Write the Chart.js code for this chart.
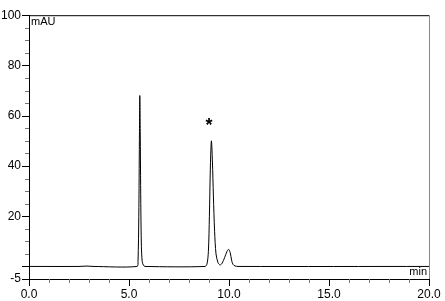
<!DOCTYPE html>
<html>
<head>
  <meta charset="UTF-8" />
  <title>Chromatogram</title>
  <script src="https://cdn.jsdelivr.net/npm/chart.js"></script>
  <style>
    body { margin: 0; background: #fff; overflow: hidden; }
    canvas { display: block; }
  </style>
</head>
<body>
  <canvas id="chrom" width="445" height="301"></canvas>

  <script>
    // retention time (min) and signal (mAU)
    const times = [0, 2.5, 2.9, 3.2, 5.40, 5.45, 5.49, 5.52, 5.54, 5.56, 5.59, 5.62, 5.66, 5.72, 5.80,
                   8.80, 8.90, 8.97, 9.02, 9.07, 9.12, 9.17, 9.22, 9.28, 9.35, 9.45, 9.55, 9.65,
                   9.78, 9.90, 9.98, 10.06, 10.13, 10.20, 10.30, 10.45, 20];
    const signal = [0, 0, 0.15, 0, 0, 2, 20, 50, 68, 55, 25, 8, 2, 0.5, 0,
                    0, 1, 6, 20, 40, 50, 42, 28, 14, 5, 1.5, 0.6, 1.2,
                    3.5, 6, 6.8, 5.5, 2.5, 0.8, 0.2, 0, 0];
    const yLabels = [100, 80, 60, 40, 20, -5];
    const yMajor = [100, 80, 60, 40, 20, 0, -5];
    const xLabels = [0, 5, 10, 15, 20];
    const marks = [{ x: 9.0, y: 56, text: '*' }];

    const font = { family: 'Liberation Sans, Arial, sans-serif', size: 12 };

    const decor = {
      id: 'decor',
      afterDraw(chart) {
        const ctx = chart.ctx;
        const a = chart.chartArea;
        const xs = chart.scales.x, ys = chart.scales.y;
        ctx.save();
        // frame top and right
        ctx.strokeStyle = '#000';
        ctx.lineWidth = 1;
        ctx.beginPath();
        ctx.moveTo(a.left, a.top + 0.5);
        ctx.lineTo(a.right, a.top + 0.5);
        ctx.stroke();
        ctx.strokeStyle = '#888';
        ctx.beginPath();
        ctx.moveTo(a.right + 0.5, a.top);
        ctx.lineTo(a.right + 0.5, a.bottom);
        ctx.stroke();
        // y ticks
        for (let v = -5; v <= 100; v += 5) {
          const y = Math.round(ys.getPixelForValue(v)) + 0.5;
          const len = yMajor.includes(v) ? 7 : 4;
          ctx.strokeStyle = yMajor.includes(v) ? '#000' : '#777';
          ctx.beginPath();
          ctx.moveTo(a.left - len, y);
          ctx.lineTo(a.left, y);
          ctx.stroke();
        }
        // x ticks
        for (let v = 0; v <= 20; v += 1) {
          const x = Math.round(xs.getPixelForValue(v)) + 0.5;
          const len = xLabels.includes(v) ? 7 : 4;
          ctx.strokeStyle = xLabels.includes(v) ? '#000' : '#777';
          ctx.beginPath();
          ctx.moveTo(x, a.bottom);
          ctx.lineTo(x, a.bottom + len);
          ctx.stroke();
        }
        // units
        ctx.fillStyle = '#000';
        ctx.font = '11px Liberation Sans, Arial, sans-serif';
        ctx.textBaseline = 'top';
        ctx.textAlign = 'left';
        ctx.fillText('mAU', a.left + 2, a.top + 1);
        ctx.textAlign = 'right';
        ctx.textBaseline = 'bottom';
        ctx.fillText('min', a.right - 2, a.bottom - 2);
        // peak marks
        ctx.font = 'bold 18px Liberation Sans, Arial, sans-serif';
        ctx.textAlign = 'center';
        ctx.textBaseline = 'middle';
        marks.forEach(m => ctx.fillText(m.text, xs.getPixelForValue(m.x), ys.getPixelForValue(m.y)));
        ctx.restore();
      }
    };

    new Chart(document.getElementById('chrom'), {
      type: 'line',
      data: {
        datasets: [{
          data: times.map((t, i) => ({ x: t, y: signal[i] })),
          borderColor: '#000',
          borderWidth: 1,
          pointRadius: 0,
          tension: 0.3,
          fill: false
        }]
      },
      options: {
        responsive: false,
        animation: false,
        layout: { padding: { top: 12, right: 16, left: 0, bottom: 0 } },
        plugins: { legend: { display: false }, tooltip: { enabled: false } },
        scales: {
          x: {
            type: 'linear', min: 0, max: 20,
            afterFit: s => { s.height = 22; s.paddingRight = 0; },
            grid: { display: false, drawTicks: false },
            border: { display: true, color: '#000', width: 1 },
            ticks: {
              stepSize: 5, color: '#000', font: font, padding: 8, maxRotation: 0,
              callback: v => v.toFixed(1)
            }
          },
          y: {
            min: -5, max: 100,
            afterFit: s => { s.width = 29; },
            afterBuildTicks: s => { s.ticks = yLabels.map(v => ({ value: v })); },
            grid: { display: false, drawTicks: false },
            border: { display: true, color: '#000', width: 1 },
            ticks: { color: '#000', font: font, padding: 8, callback: v => String(v) }
          }
        }
      },
      plugins: [decor]
    });
  </script>
</body>
</html>
